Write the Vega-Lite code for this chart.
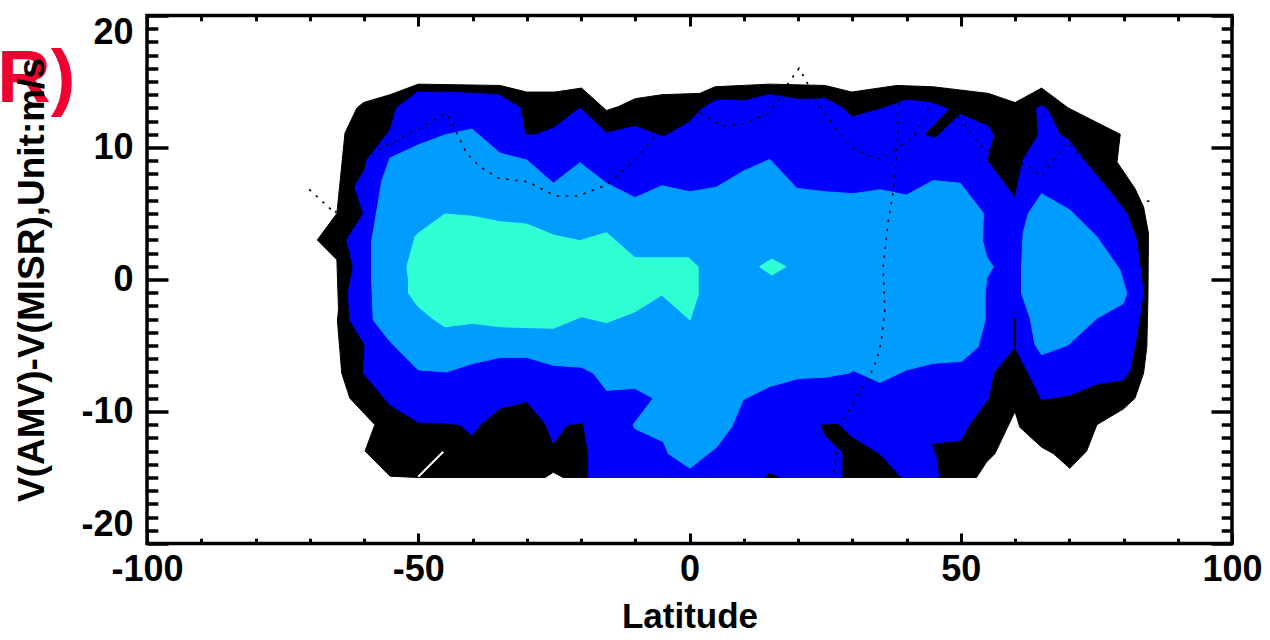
{
"$schema": "https://vega.github.io/schema/vega-lite/v6.json",
"autosize": "none",
"width": 1085,
"height": 528,
"padding": {"left": 147, "top": 15.5, "right": 38, "bottom": 96.5},
"background": "white",
"config": {"view": {"stroke": "black", "strokeWidth": 3.5}},
"datasets": {
"black": [
{"lat":-68.6,"v":3.0,"i":0},{"lat":-65.0,"v":5.0,"i":1},{"lat":-63.5,"v":11.1,"i":2},{"lat":-61.3,"v":13.0,"i":3},{"lat":-60.1,"v":13.4,"i":4},{"lat":-55.2,"v":14.0,"i":5},{"lat":-50.0,"v":14.8,"i":6},{"lat":-34.9,"v":14.7,"i":7},{"lat":-30.0,"v":14.2,"i":8},{"lat":-24.8,"v":14.2,"i":9},{"lat":-19.9,"v":14.5,"i":10},{"lat":-15.3,"v":12.8,"i":11},{"lat":-13.1,"v":13.1,"i":12},{"lat":-10.0,"v":13.7,"i":13},{"lat":-5.1,"v":14.0,"i":14},{"lat":1.9,"v":14.1,"i":15},{"lat":4.7,"v":14.6,"i":16},{"lat":14.8,"v":14.8,"i":17},{"lat":25.0,"v":14.7,"i":18},{"lat":29.9,"v":14.2,"i":19},{"lat":38.2,"v":14.7,"i":20},{"lat":44.9,"v":14.6,"i":21},{"lat":55.1,"v":14.1,"i":22},{"lat":60.0,"v":13.4,"i":23},{"lat":64.9,"v":14.5,"i":24},{"lat":69.8,"v":13.0,"i":25},{"lat":79.4,"v":11.0,"i":26},{"lat":78.8,"v":8.9,"i":27},{"lat":82.1,"v":6.9,"i":28},{"lat":83.7,"v":5.5,"i":29},{"lat":84.6,"v":3.5,"i":30},{"lat":84.5,"v":-1.5,"i":31},{"lat":84.3,"v":-5.1,"i":32},{"lat":83.7,"v":-7.1,"i":33},{"lat":82.1,"v":-9.0,"i":34},{"lat":80.0,"v":-9.8,"i":35},{"lat":75.1,"v":-11.0,"i":36},{"lat":73.2,"v":-13.0,"i":37},{"lat":70.1,"v":-14.3,"i":38},{"lat":67.1,"v":-13.2,"i":39},{"lat":64.9,"v":-12.7,"i":40},{"lat":60.9,"v":-11.2,"i":41},{"lat":60.0,"v":-10.0,"i":42},{"lat":56.3,"v":-13.2,"i":43},{"lat":54.8,"v":-13.8,"i":44},{"lat":52.9,"v":-15.0,"i":45},{"lat":-23.3,"v":-15.0,"i":46},{"lat":-25.1,"v":-14.6,"i":47},{"lat":-26.6,"v":-15.0,"i":48},{"lat":-50.0,"v":-15.0,"i":49},{"lat":-55.2,"v":-14.9,"i":50},{"lat":-59.8,"v":-13.0,"i":51},{"lat":-58.0,"v":-11.0,"i":52},{"lat":-62.6,"v":-9.0,"i":53},{"lat":-64.1,"v":-7.1,"i":54},{"lat":-64.9,"v":-3.1,"i":55},{"lat":-64.7,"v":-2.3,"i":56},{"lat":-65.0,"v":1.5,"i":57},{"lat":-68.6,"v":3.0,"i":58}
],
"blue": [
{"lat":-63.2,"v":3.0,"i":0},{"lat":-60.1,"v":5.0,"i":1},{"lat":-61.7,"v":7.0,"i":2},{"lat":-59.8,"v":8.4,"i":3},{"lat":-59.5,"v":9.05,"i":4},{"lat":-55.2,"v":11.3,"i":5},{"lat":-54.0,"v":13.0,"i":6},{"lat":-50.3,"v":14.15,"i":7},{"lat":-44.8,"v":14.2,"i":8},{"lat":-35.2,"v":14.0,"i":9},{"lat":-31.2,"v":13.0,"i":10},{"lat":-30.3,"v":10.95,"i":11},{"lat":-28.5,"v":10.95,"i":12},{"lat":-25.1,"v":11.45,"i":13},{"lat":-20.2,"v":13.0,"i":14},{"lat":-15.3,"v":11.1,"i":15},{"lat":-10.0,"v":11.6,"i":16},{"lat":-4.8,"v":10.8,"i":17},{"lat":0.1,"v":11.95,"i":18},{"lat":1.9,"v":12.8,"i":19},{"lat":4.7,"v":13.55,"i":20},{"lat":10.2,"v":13.55,"i":21},{"lat":14.8,"v":14.0,"i":22},{"lat":20.1,"v":13.65,"i":23},{"lat":25.0,"v":13.7,"i":24},{"lat":28.4,"v":12.95,"i":25},{"lat":29.9,"v":12.3,"i":26},{"lat":35.1,"v":12.9,"i":27},{"lat":40.0,"v":13.6,"i":28},{"lat":44.6,"v":13.4,"i":29},{"lat":47.7,"v":12.9,"i":30},{"lat":43.2,"v":10.95,"i":31},{"lat":45.3,"v":10.7,"i":32},{"lat":49.9,"v":12.5,"i":33},{"lat":55.1,"v":11.6,"i":34},{"lat":56.0,"v":10.95,"i":35},{"lat":54.8,"v":9.05,"i":36},{"lat":60.0,"v":6.2,"i":37},{"lat":61.5,"v":9.05,"i":38},{"lat":64.3,"v":10.95,"i":39},{"lat":64.0,"v":12.95,"i":40},{"lat":64.9,"v":13.2,"i":41},{"lat":66.1,"v":12.8,"i":42},{"lat":68.3,"v":10.95,"i":43},{"lat":69.8,"v":10.6,"i":44},{"lat":73.2,"v":8.8,"i":45},{"lat":76.9,"v":7.0,"i":46},{"lat":80.6,"v":5.0,"i":47},{"lat":82.4,"v":3.0,"i":48},{"lat":83.65,"v":-1.0,"i":49},{"lat":82.4,"v":-4.3,"i":50},{"lat":81.2,"v":-6.85,"i":51},{"lat":80.0,"v":-7.6,"i":52},{"lat":75.1,"v":-7.9,"i":53},{"lat":70.1,"v":-8.75,"i":54},{"lat":64.9,"v":-9.1,"i":55},{"lat":60.0,"v":-5.1,"i":56},{"lat":56.0,"v":-7.1,"i":57},{"lat":55.1,"v":-9.0,"i":58},{"lat":51.7,"v":-10.9,"i":59},{"lat":49.9,"v":-12.2,"i":60},{"lat":44.6,"v":-12.4,"i":61},{"lat":45.6,"v":-13.7,"i":62},{"lat":45.9,"v":-15.0,"i":63},{"lat":39.1,"v":-15.0,"i":64},{"lat":35.1,"v":-13.2,"i":65},{"lat":29.9,"v":-11.9,"i":66},{"lat":27.4,"v":-10.9,"i":67},{"lat":24.05,"v":-10.95,"i":68},{"lat":25.0,"v":-11.9,"i":69},{"lat":28.1,"v":-13.1,"i":70},{"lat":28.1,"v":-15.0,"i":71},{"lat":16.7,"v":-15.0,"i":72},{"lat":14.8,"v":-14.6,"i":73},{"lat":13.9,"v":-15.0,"i":74},{"lat":-18.65,"v":-15.0,"i":75},{"lat":-18.65,"v":-13.05,"i":76},{"lat":-19.6,"v":-10.85,"i":77},{"lat":-22.6,"v":-11.0,"i":78},{"lat":-25.1,"v":-12.4,"i":79},{"lat":-26.6,"v":-10.9,"i":80},{"lat":-30.0,"v":-9.25,"i":81},{"lat":-34.9,"v":-9.75,"i":82},{"lat":-38.6,"v":-11.0,"i":83},{"lat":-40.1,"v":-11.8,"i":84},{"lat":-42.3,"v":-11.0,"i":85},{"lat":-45.4,"v":-10.85,"i":86},{"lat":-50.0,"v":-10.8,"i":87},{"lat":-55.2,"v":-9.5,"i":88},{"lat":-60.1,"v":-7.1,"i":89},{"lat":-59.8,"v":-4.96,"i":90},{"lat":-62.6,"v":-3.07,"i":91},{"lat":-62.9,"v":-1.0,"i":92},{"lat":-62.0,"v":0.97,"i":93},{"lat":-63.2,"v":3.0,"i":94}
],
"lightblue": [
{"part":"a","lat":-58.6,"v":2.86,"i":0},{"part":"a","lat":-56.7,"v":7.5,"i":1},{"part":"a","lat":-55.2,"v":9.2,"i":2},{"part":"a","lat":-50.0,"v":10.2,"i":3},{"part":"a","lat":-45.1,"v":10.95,"i":4},{"part":"a","lat":-40.1,"v":11.4,"i":5},{"part":"a","lat":-34.9,"v":9.56,"i":6},{"part":"a","lat":-30.0,"v":9.05,"i":7},{"part":"a","lat":-25.1,"v":7.3,"i":8},{"part":"a","lat":-20.2,"v":8.85,"i":9},{"part":"a","lat":-15.3,"v":7.3,"i":10},{"part":"a","lat":-10.05,"v":6.2,"i":11},{"part":"a","lat":-5.1,"v":7.1,"i":12},{"part":"a","lat":0.1,"v":6.65,"i":13},{"part":"a","lat":5.0,"v":7.0,"i":14},{"part":"a","lat":9.9,"v":8.2,"i":15},{"part":"a","lat":14.8,"v":9.1,"i":16},{"part":"a","lat":19.8,"v":6.9,"i":17},{"part":"a","lat":25.0,"v":6.65,"i":18},{"part":"a","lat":30.2,"v":6.5,"i":19},{"part":"a","lat":35.1,"v":6.8,"i":20},{"part":"a","lat":40.0,"v":6.4,"i":21},{"part":"a","lat":44.9,"v":7.5,"i":22},{"part":"a","lat":49.9,"v":7.3,"i":23},{"part":"a","lat":54.2,"v":5.0,"i":24},{"part":"a","lat":54.0,"v":3.0,"i":25},{"part":"a","lat":54.8,"v":1.7,"i":26},{"part":"a","lat":56.0,"v":0.97,"i":27},{"part":"a","lat":54.8,"v":0.1,"i":28},{"part":"a","lat":54.5,"v":-1.05,"i":29},{"part":"a","lat":54.5,"v":-3.07,"i":30},{"part":"a","lat":53.2,"v":-5.1,"i":31},{"part":"a","lat":50.2,"v":-6.2,"i":32},{"part":"a","lat":44.9,"v":-6.35,"i":33},{"part":"a","lat":40.0,"v":-6.85,"i":34},{"part":"a","lat":35.1,"v":-7.8,"i":35},{"part":"a","lat":30.2,"v":-6.9,"i":36},{"part":"a","lat":29.3,"v":-7.1,"i":37},{"part":"a","lat":25.0,"v":-7.4,"i":38},{"part":"a","lat":20.05,"v":-7.5,"i":39},{"part":"a","lat":14.8,"v":-8.1,"i":40},{"part":"a","lat":9.9,"v":-9.1,"i":41},{"part":"a","lat":7.8,"v":-11.15,"i":42},{"part":"a","lat":5.0,"v":-12.7,"i":43},{"part":"a","lat":1.9,"v":-13.7,"i":44},{"part":"a","lat":0.1,"v":-14.3,"i":45},{"part":"a","lat":-3.9,"v":-13.2,"i":46},{"part":"a","lat":-4.8,"v":-12.3,"i":47},{"part":"a","lat":-10.05,"v":-11.3,"i":48},{"part":"a","lat":-10.4,"v":-11.0,"i":49},{"part":"a","lat":-6.7,"v":-9.0,"i":50},{"part":"a","lat":-10.05,"v":-8.25,"i":51},{"part":"a","lat":-15.3,"v":-8.4,"i":52},{"part":"a","lat":-17.7,"v":-7.1,"i":53},{"part":"a","lat":-19.9,"v":-6.65,"i":54},{"part":"a","lat":-25.1,"v":-6.5,"i":55},{"part":"a","lat":-30.0,"v":-5.9,"i":56},{"part":"a","lat":-34.9,"v":-5.9,"i":57},{"part":"a","lat":-39.9,"v":-6.35,"i":58},{"part":"a","lat":-44.8,"v":-7.0,"i":59},{"part":"a","lat":-50.0,"v":-6.85,"i":60},{"part":"a","lat":-55.2,"v":-4.7,"i":61},{"part":"a","lat":-58.3,"v":-3.07,"i":62},{"part":"a","lat":-58.6,"v":-0.04,"i":63},{"part":"a","lat":-58.6,"v":2.86,"i":64},
{"part":"b","lat":64.9,"v":6.5,"i":0},{"part":"b","lat":70.1,"v":5.27,"i":1},{"part":"b","lat":75.1,"v":3.24,"i":2},{"part":"b","lat":79.35,"v":0.72,"i":3},{"part":"b","lat":80.6,"v":-1.05,"i":4},{"part":"b","lat":80.0,"v":-1.8,"i":5},{"part":"b","lat":75.1,"v":-2.94,"i":6},{"part":"b","lat":69.8,"v":-4.96,"i":7},{"part":"b","lat":64.9,"v":-5.7,"i":8},{"part":"b","lat":63.7,"v":-4.96,"i":9},{"part":"b","lat":62.8,"v":-2.94,"i":10},{"part":"b","lat":61.2,"v":-1.05,"i":11},{"part":"b","lat":61.2,"v":0.97,"i":12},{"part":"b","lat":61.5,"v":3.5,"i":13},{"part":"b","lat":62.45,"v":5.0,"i":14},{"part":"b","lat":64.9,"v":6.5,"i":15}
],
"cyan": [
{"part":"a","lat":-50.0,"v":3.5,"i":0},{"part":"a","lat":-45.1,"v":4.96,"i":1},{"part":"a","lat":-40.1,"v":4.8,"i":2},{"part":"a","lat":-34.9,"v":4.38,"i":3},{"part":"a","lat":-30.0,"v":4.2,"i":4},{"part":"a","lat":-25.1,"v":3.37,"i":5},{"part":"a","lat":-20.2,"v":2.94,"i":6},{"part":"a","lat":-15.3,"v":3.55,"i":7},{"part":"a","lat":-10.05,"v":1.65,"i":8},{"part":"a","lat":-0.2,"v":1.65,"i":9},{"part":"a","lat":1.6,"v":0.97,"i":10},{"part":"a","lat":1.6,"v":-1.17,"i":11},{"part":"a","lat":0.1,"v":-3.07,"i":12},{"part":"a","lat":-5.1,"v":-1.17,"i":13},{"part":"a","lat":-10.05,"v":-2.44,"i":14},{"part":"a","lat":-15.3,"v":-3.27,"i":15},{"part":"a","lat":-19.9,"v":-2.82,"i":16},{"part":"a","lat":-25.1,"v":-3.7,"i":17},{"part":"a","lat":-34.9,"v":-3.58,"i":18},{"part":"a","lat":-39.9,"v":-3.32,"i":19},{"part":"a","lat":-45.1,"v":-3.58,"i":20},{"part":"a","lat":-47.2,"v":-3.0,"i":21},{"part":"a","lat":-50.0,"v":-2.06,"i":22},{"part":"a","lat":-51.8,"v":-1.05,"i":23},{"part":"a","lat":-51.8,"v":-0.04,"i":24},{"part":"a","lat":-52.1,"v":0.97,"i":25},{"part":"a","lat":-50.6,"v":3.24,"i":26},{"part":"a","lat":-50.0,"v":3.5,"i":27},
{"part":"b","lat":12.9,"v":0.97,"i":0},{"part":"b","lat":15.15,"v":1.55,"i":1},{"part":"b","lat":17.8,"v":0.97,"i":2},{"part":"b","lat":15.15,"v":0.34,"i":3},{"part":"b","lat":12.9,"v":0.97,"i":4}
],
"dotted": [
{"part":"a","lat":-70.1,"v":6.83,"i":0},{"part":"a","lat":-65.3,"v":5.0,"i":1},{"part":"a","lat":-61.5,"v":9.0,"i":2},{"part":"a","lat":-56.7,"v":9.94,"i":3},{"part":"a","lat":-44.75,"v":12.6,"i":4},{"part":"a","lat":-42.9,"v":11.1,"i":5},{"part":"a","lat":-41.1,"v":9.56,"i":6},{"part":"a","lat":-38.6,"v":8.55,"i":7},{"part":"a","lat":-35.2,"v":7.67,"i":8},{"part":"a","lat":-29.7,"v":7.4,"i":9},{"part":"a","lat":-26.3,"v":6.65,"i":10},{"part":"a","lat":-24.5,"v":6.33,"i":11},{"part":"a","lat":-20.5,"v":6.33,"i":12},{"part":"a","lat":-15.3,"v":7.16,"i":13},{"part":"a","lat":-10.4,"v":8.92,"i":14},{"part":"a","lat":-6.7,"v":10.7,"i":15},{"part":"a","lat":-1.75,"v":13.6,"i":16},{"part":"a","lat":3.2,"v":12.3,"i":17},{"part":"a","lat":6.2,"v":11.6,"i":18},{"part":"a","lat":9.9,"v":11.8,"i":19},{"part":"a","lat":14.2,"v":12.5,"i":20},{"part":"a","lat":16.4,"v":13.6,"i":21},{"part":"a","lat":18.2,"v":14.86,"i":22},{"part":"a","lat":20.2,"v":16.0,"i":23},{"part":"a","lat":21.3,"v":15.2,"i":24},{"part":"a","lat":24.05,"v":13.1,"i":25},{"part":"a","lat":27.4,"v":11.2,"i":26},{"part":"a","lat":29.9,"v":10.0,"i":27},{"part":"a","lat":33.6,"v":9.3,"i":28},{"part":"a","lat":35.4,"v":9.13,"i":29},{"part":"a","lat":38.5,"v":10.0,"i":30},{"part":"a","lat":41.25,"v":10.8,"i":31},{"part":"a","lat":44.6,"v":13.35,"i":32},{"part":"a","lat":47.3,"v":13.6,"i":33},{"part":"a","lat":50.2,"v":11.95,"i":34},{"part":"a","lat":52.6,"v":10.7,"i":35},{"part":"a","lat":54.2,"v":9.94,"i":36},{"part":"a","lat":58.0,"v":9.0,"i":37},{"part":"a","lat":61.8,"v":8.8,"i":38},{"part":"a","lat":64.9,"v":7.8,"i":39},{"part":"a","lat":67.1,"v":9.05,"i":40},{"part":"a","lat":69.8,"v":10.4,"i":41},{"part":"a","lat":74.4,"v":8.3,"i":42},{"part":"a","lat":76.9,"v":7.0,"i":43},{"part":"a","lat":83.35,"v":5.9,"i":44},{"part":"a","lat":84.9,"v":5.95,"i":45},
{"part":"b","lat":38.2,"v":14.7,"i":0},{"part":"b","lat":38.7,"v":12.97,"i":1},{"part":"b","lat":38.2,"v":9.56,"i":2},{"part":"b","lat":37.6,"v":6.8,"i":3},{"part":"b","lat":36.6,"v":4.26,"i":4},{"part":"b","lat":35.7,"v":0.97,"i":5},{"part":"b","lat":36.0,"v":-2.3,"i":6},{"part":"b","lat":35.4,"v":-4.58,"i":7},{"part":"b","lat":34.5,"v":-6.1,"i":8},{"part":"b","lat":33.0,"v":-7.5,"i":9},{"part":"b","lat":30.8,"v":-8.9,"i":10},{"part":"b","lat":28.05,"v":-10.9,"i":11},{"part":"b","lat":27.1,"v":-13.2,"i":12},{"part":"b","lat":26.5,"v":-14.94,"i":13}
],
"whiteline": [{"lat":-50.0,"v":-14.94,"i":0},{"lat":-45.4,"v":-13.05,"i":1}],
"blackline": [{"lat":60.0,"v":-2.9,"i":0},{"lat":60.0,"v":-5.1,"i":1}],
"label": [{"lat":-113.2,"v":13.45,"text":"R)"}]
},
"resolve": {"axis": {"x": "independent", "y": "independent"}},
"layer": [
{
"data": {"name": "black"},
"mark": {"type": "line", "fill": "#000000", "stroke": "#000000", "strokeWidth": 1},
"encoding": {
"x": {"field": "lat", "type": "quantitative", "scale": {"domain": [-100, 100], "nice": false, "zero": false},
 "axis": {"orient": "bottom", "values": [-100, -50, 0, 50, 100], "labelExpr": "'' + datum.value", "ticks": false, "domain": false, "grid": false, "labelFont": "Liberation Sans", "labelFontSize": 36, "labelFontWeight": "bold", "labelColor": "black", "labelPadding": 9, "labelOverlap": false, "labelFlush": false, "title": "Latitude", "titleFont": "Liberation Sans", "titleFontSize": 35, "titleFontWeight": "bold", "titleColor": "black", "titlePadding": 12, "zindex": 1}},
"y": {"field": "v", "type": "quantitative", "scale": {"domain": [-20, 20], "nice": false, "zero": false},
 "axis": {"orient": "left", "values": [-20, -10, 0, 10, 20], "labelExpr": "'' + datum.value", "ticks": false, "domain": false, "grid": false, "labelFont": "Liberation Sans", "labelFontSize": 36, "labelFontWeight": "bold", "labelColor": "black", "labelPadding": 14, "labelOverlap": false, "labelFlush": true, "title": "V(AMV)-V(MISR),Unit:m/s", "titleFont": "Liberation Sans", "titleFontSize": 37, "titleFontWeight": "bold", "titleColor": "black", "titlePadding": 29, "zindex": 1}},
"order": {"field": "i", "type": "quantitative"}
}
},
{
"data": {"name": "blue"},
"mark": {"type": "line", "fill": "#0000ff", "stroke": "#0000ff", "strokeWidth": 1},
"encoding": {
"x": {"field": "lat", "type": "quantitative", "axis": {"orient": "bottom", "values": [-100, -50, 0, 50, 100], "labels": false, "domain": false, "grid": false, "tickSize": -10.5, "tickWidth": 3, "tickColor": "black", "title": null}},
"y": {"field": "v", "type": "quantitative", "axis": {"orient": "left", "values": [-20, -10, 0, 10, 20], "labels": false, "domain": false, "grid": false, "tickSize": -21, "tickWidth": 3.5, "tickColor": "black", "title": null}},
"order": {"field": "i", "type": "quantitative"}
}
},
{
"data": {"name": "lightblue"},
"mark": {"type": "line", "fill": "#009cff", "stroke": "#009cff", "strokeWidth": 1},
"encoding": {
"x": {"field": "lat", "type": "quantitative", "axis": {"orient": "bottom", "values": [-90, -80, -70, -60, -40, -30, -20, -10, 10, 20, 30, 40, 60, 70, 80, 90], "labels": false, "domain": false, "grid": false, "tickSize": -5.3, "tickWidth": 3, "tickColor": "black", "title": null}},
"y": {"field": "v", "type": "quantitative", "axis": {"orient": "left", "values": [-19, -18, -17, -16, -15, -14, -13, -12, -11, -9, -8, -7, -6, -5, -4, -3, -2, -1, 1, 2, 3, 4, 5, 6, 7, 8, 9, 11, 12, 13, 14, 15, 16, 17, 18, 19], "labels": false, "domain": false, "grid": false, "tickSize": -10.8, "tickWidth": 3.5, "tickColor": "black", "title": null}},
"detail": {"field": "part", "type": "nominal"},
"order": {"field": "i", "type": "quantitative"}
}
},
{
"data": {"name": "cyan"},
"mark": {"type": "line", "fill": "#2effd4", "stroke": "#2effd4", "strokeWidth": 1},
"encoding": {
"x": {"field": "lat", "type": "quantitative", "axis": {"orient": "top", "values": [-100, -50, 0, 50, 100], "labels": false, "domain": false, "grid": false, "tickSize": -10.5, "tickWidth": 3, "tickColor": "black", "title": null}},
"y": {"field": "v", "type": "quantitative", "axis": {"orient": "right", "values": [-20, -10, 0, 10, 20], "labels": false, "domain": false, "grid": false, "tickSize": -21, "tickWidth": 3.5, "tickColor": "black", "title": null}},
"detail": {"field": "part", "type": "nominal"},
"order": {"field": "i", "type": "quantitative"}
}
},
{
"data": {"name": "dotted"},
"mark": {"type": "line", "stroke": "#000000", "strokeWidth": 1.6, "strokeDash": [2.5, 6.5]},
"encoding": {
"x": {"field": "lat", "type": "quantitative", "axis": {"orient": "top", "values": [-90, -80, -70, -60, -40, -30, -20, -10, 10, 20, 30, 40, 60, 70, 80, 90], "labels": false, "domain": false, "grid": false, "tickSize": -5.3, "tickWidth": 3, "tickColor": "black", "title": null}},
"y": {"field": "v", "type": "quantitative", "axis": {"orient": "right", "values": [-19, -18, -17, -16, -15, -14, -13, -12, -11, -9, -8, -7, -6, -5, -4, -3, -2, -1, 1, 2, 3, 4, 5, 6, 7, 8, 9, 11, 12, 13, 14, 15, 16, 17, 18, 19], "labels": false, "domain": false, "grid": false, "tickSize": -10.8, "tickWidth": 3.5, "tickColor": "black", "title": null}},
"detail": {"field": "part", "type": "nominal"},
"order": {"field": "i", "type": "quantitative"}
}
},
{
"data": {"name": "whiteline"},
"mark": {"type": "line", "stroke": "#ffffff", "strokeWidth": 2},
"encoding": {
"x": {"field": "lat", "type": "quantitative", "axis": null},
"y": {"field": "v", "type": "quantitative", "axis": null},
"order": {"field": "i", "type": "quantitative"}
}
},
{
"data": {"name": "blackline"},
"mark": {"type": "line", "stroke": "#000000", "strokeWidth": 2},
"encoding": {
"x": {"field": "lat", "type": "quantitative", "axis": null},
"y": {"field": "v", "type": "quantitative", "axis": null},
"order": {"field": "i", "type": "quantitative"}
}
},
{
"data": {"name": "label"},
"mark": {"type": "text", "align": "right", "baseline": "alphabetic", "font": "Liberation Sans", "fontSize": 74, "fontWeight": "bold", "fill": "#f00030"},
"encoding": {
"x": {"field": "lat", "type": "quantitative", "axis": null},
"y": {"field": "v", "type": "quantitative", "axis": null},
"text": {"field": "text", "type": "nominal"}
}
}
]
}
